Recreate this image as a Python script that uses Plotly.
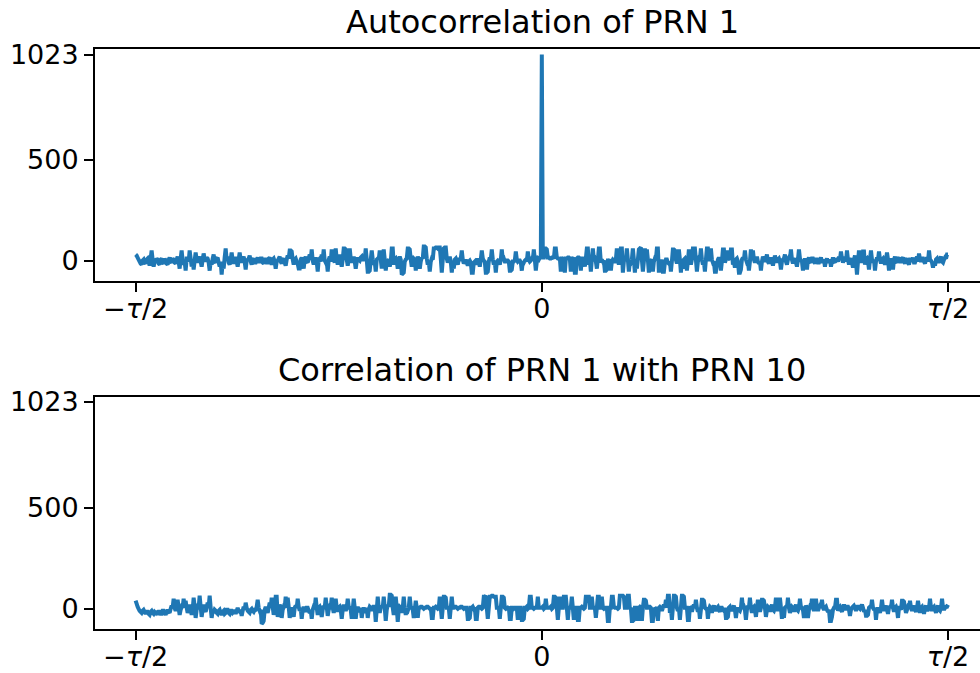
import numpy as np
import plotly.graph_objects as go

# Tick labels
X_TICKS = [-0.5, 0.0, 0.5]
X_TICK_TEXT = ["\u2212<i>\u03c4</i>/2", "0", "<i>\u03c4</i>/2"]
Y_TICKS = [0, 500, 1023]

TITLES = ["Autocorrelation of PRN 1", "Correlation of PRN 1 with PRN 10"]

# Correlation values (lag from -tau/2 to tau/2)
AUTO_PRN1_LEFT = [
    30, 25, 15, 5, -5, -15, -20, 0, 5, -10, -15, 5, 10, -5, -25, 10, 50, 5, -30, -5,
    -10, 10, 5, -15, -20, 5, 10, -10, -15, 10, 0, -15, -20, 5, 15, -5, -10, 10, 5, -10,
    -15, 5, 20, -5, -40, 10, 50, 0, -20, -5, -50, 10, 10, -5, 50, 10, -30, 5, -45, 0,
    40, 5, -10, 10, 20, -5, -30, 5, 35, 10, -5, 15, 10, -10, -50, -5, -20, 10, 30, -5,
    -10, 10, 15, -10, -30, -5, -70, -10, -40, 15, 60, 5, 20, -10, -20, 5, 40, 0, -15, 10,
    10, -5, -30, 5, 40, 5, -10, 10, 20, -5, -45, 0, 5, 10, 25, -5, -20, 5, 10, -10,
    -10, 5, 15, -5, -5, 10, 10, -10, -15, 5, 5, -10, -10, 10, 15, -5, -20, 5, 10, -5,
    -40, -5, 0, 10, 20, -5, -15, 5, 10, -10, -25, 5, 25, 10, 50, 50, 45, 5, -20, 5,
    10, -5, -15, -40, -40, 5, 15, -5, -40, 5, 20, -5, -10, 10, 30, 5, 55, 0, -20, 5,
    15, -5, -55, 5, 10, -5, 30, 5, 55, 0, -10, -5, -55, 5, 20, -5, 55, 5, 5, -10,
    60, 5, -20, 10, 30, -5, -30, 5, 60, 60, 55, 5, -25, 5, 60, 10, -10, 5, 20, -5,
    -40, -5, 15, 5, 0, 15, 20, 5, 5, 10, 60, 5, -55, -55, -50, 5, 50, 5, -20, -5,
    -55, 5, 10, 5, 50, 5, -40, 0, 55, 5, -50, -5, 0, 5, -30, -5, 60, 60, -20, 5,
    10, -5, -40, 5, 20, 5, -70, -65, -60, -5, 5, 10, 60, 60, 55, 5, -30, -5, 10, 5,
    -50, -5, 20, 5, -40, -5, 15, 10, 70, 70, 65, 10, -20, -5, -55, -5, 10, 5, 60, 60,
    65, 65, 60, 65, 65, 10, -60, 5, 60, 65, 65, 10, -10, 5, 20, -5, -60, -5, -40, 5,
    10, -5, -20, 5, 5, 10, 50, 5, -15, -5, 5, -10, -25, -5, 0, -10, -60, -60, -10, -5,
    -20, -5, 10, -5, -30, 5, 50, 10, 0, -5, -60, -60, -55, -5, 15, 5, 55, 5, -20, -5,
    -60, -5, 0, -5, -20, 5, 55, 5, 10, -5, -5, 0, 0, -5, -50, -50, -45, -5, -5, 0,
    45, 5, -5, 0, 0, -10, -50, -5, -10, 0, 5, -5, 45, 5, -5, 0, 10, 5, 55, 5,
    -50, -5, 10, 5, 15, 15,
]
AUTO_PEAK = 1023
AUTO_PRN1_RIGHT = [
    15, 15, 60, 60, 55, 15, 15, 10, 10, 15, 15, 10, 60, 60, 15, 10, 10, 15, -55, 10,
    10, 15, -60, 10, 10, 15, 15, 10, -55, 10, 10, 15, -60, -60, 10, 15, 15, 10, -50, 10,
    10, 5, -30, 10, 60, 60, -20, 5, -55, 5, 60, 5, 10, -5, -40, 5, 60, 60, -10, 5,
    -5, 0, -50, -50, -45, 0, 0, 5, -50, -5, 5, 0, -10, 5, 60, 5, -20, 5, 60, 60,
    -60, -5, 20, 5, 60, 5, -55, -5, -10, 5, 60, 5, -60, -5, -40, 5, 55, 60, 65, 5,
    -55, -5, 60, 5, 55, 5, -60, -5, 0, 5, -55, -5, 10, 5, 60, 60, -60, -5, -10, 5,
    -55, -55, -10, 5, 5, -10, -15, -5, -55, -5, 55, 55, 50, 5, -15, 5, 55, 5, -60, -5,
    -40, 5, 10, -5, -50, -5, 55, 5, -20, 5, 60, 60, 60, 5, -55, -5, 10, 5, 60, 5,
    -20, -5, -55, 5, 60, 60, 5, 5, 60, 5, -10, -5, -55, -55, -20, 5, 15, 5, -50, -5,
    55, 55, -10, 5, 50, 5, 10, 5, 55, 55, -20, -5, -35, 5, 10, -5, -60, -60, -45, 5,
    15, 5, 50, 5, -10, -5, -50, -5, 55, 10, 50, 5, -10, 5, 20, -5, -15, -5, -50, -5,
    20, 5, -5, 10, 30, -5, -15, 5, 15, -5, -25, 0, 25, 5, -10, 5, 10, -5, -45, -5,
    5, 10, 30, -5, -20, 5, 15, 10, 55, 5, -15, 5, 10, -10, -30, 5, 55, 10, 0, -5,
    -50, -5, 10, -5, -45, 5, 15, -5, -10, 10, 10, -5, -15, 5, 5, -10, -10, 5, 15, -5,
    -5, 5, -30, 0, 10, -10, -5, 5, -30, -5, 15, -5, -10, 10, 5, -5, 20, 5, 45, 10,
    -10, 5, 20, -5, 50, 5, -20, 5, 10, -10, -35, 5, 25, -5, -70, -5, 50, 5, -10, 5,
    45, 45, -20, 5, 10, -5, -45, 5, 50, 5, -10, 5, -50, -5, 15, 5, 45, 5, -15, 5,
    10, -5, -20, 5, 40, 5, -50, -5, 10, -5, -45, 5, 20, -5, -10, 10, 15, -5, -5, 10,
    15, -5, -15, 5, 10, -10, -20, 5, 5, -5, 15, -10, -10, 5, 20, -5, 35, 5, -5, 10,
    10, -5, -15, 5, 15, -5, 50, 5, 0, -10, -35, -5, -25, 5, 10, -5, -5, 10, 20, -5,
    -10, 5, 15, 10, 30, 30,
]

CROSS_PRN1_PRN10 = [
    40, 25, 10, 0, -10, -15, -20, -10, -5, -15, -25, -15, -15, -25, -30, -15, -10, -20, -25, -15,
    -20, -10, -30, -15, -15, -25, -25, -10, -10, -20, -30, -15, -5, -15, -20, 0, 15, 5, 50, 5,
    -10, 5, 45, 5, -30, -5, 10, 5, 50, 10, 40, 5, -20, -5, 20, 5, -30, -5, 55, 10,
    -45, -5, 10, 5, 65, 10, -40, -5, 20, -5, -15, 5, 30, 10, 65, 5, -45, -10, -20, -5,
    -10, -20, -25, -10, -5, -20, -30, -15, -10, -25, -20, -5, -5, -20, -25, -10, -10, -20, -15, -5,
    -25, -10, 5, -10, -15, -5, -35, -10, 10, -5, 30, 5, -10, -15, -20, -5, 0, -10, -15, -5,
    -5, 10, 45, 5, -10, -5, -75, -70, -60, -5, 10, -5, -20, 5, 30, 5, 55, 10, -30, -5,
    60, 60, -40, -5, 20, 5, -45, -5, 10, 5, 60, 5, 55, 10, -45, -5, 5, -5, -40, 5,
    15, 5, 50, 10, -10, 5, -50, -5, 10, -5, -15, 5, 5, -10, -20, -5, -50, -5, 10, 5,
    55, 5, -30, 5, 10, -5, -40, -5, 15, 5, 55, 10, -35, -5, 10, 5, 55, 5, -20, 5,
    50, 5, -15, 5, 10, -5, -50, -5, 20, 5, -10, 5, 50, 10, 5, -5, -50, -5, 50, 5,
    -50, -5, 10, -5, -15, 5, -45, -5, 5, -5, -20, 5, -45, -5, 10, 5, -10, 5, 15, 5,
    -65, -5, 60, 5, -20, 5, 10, 5, 60, 5, -60, -5, 20, 10, 70, 70, 65, 5, -30, -5,
    60, 5, -65, -5, 10, 5, -20, 5, 60, 5, -30, -5, -10, 5, 60, 10, 5, -5, -45, -5,
    40, 5, -45, 5, 5, 10, 10, 5, 0, 5, 5, 10, 10, 5, 0, 5, -45, -45, 5, 5,
    10, 5, 0, 5, 60, 5, -50, 5, 60, 60, 55, 5, 5, 5, -50, 5, 60, 5, 5, 10,
    10, 5, 0, 5, 5, 10, 10, 5, 0, 5, 5, 5, -50, -50, -45, 5, 5, 10, 0, 5,
    -50, -50, 5, 10, 10, 5, 0, 5, 60, 60, 65, 5, -50, 5, 60, 60, 65, 65, 60, 60,
    60, 5, 5, 5, -50, 5, 60, 60, 55, 5, 0, 5, 5, 10, -50, -50, 5, 5, 0, 5,
    5, 5, -55, 5, 5, 5, -55, -55, -50, 5, 5, 10, 0, 5, 60, 60, 5, 5, 0, 5,
    5, 5, 60, 5, 5, 5, 5, 10, 0, 5, 50, 5, 5, 5, 5, 10, 0, 5, 60, 60,
    55, 5, -55, 5, 60, 5, 5, 5, 60, 60, 60, 5, -55, 5, 5, 5, 60, 5, -55, 5,
    5, 5, -55, -55, 5, 5, 10, 5, 0, 5, 60, 60, 60, 60, 5, 5, 60, 5, 5, 5,
    -45, 5, 60, 60, 5, 5, 60, 5, 0, 5, 5, 5, -60, -60, 5, 5, 60, 60, 10, 5,
    5, 5, 0, 5, 65, 65, 65, 65, 60, 5, 5, 5, 65, 65, 0, 5, -60, -60, -55, 5,
    5, 5, -60, 5, 10, 5, -60, 5, 45, 45, 40, 5, 5, 10, 10, 5, -60, -60, -20, 5,
    0, 5, -60, 5, 10, 5, -10, 5, 20, 5, 45, 5, 65, 65, -20, 5, -55, 5, 65, 65,
    60, 5, -10, 5, -55, 5, 65, 65, 60, 5, 5, 5, -55, -55, 10, 5, -15, 5, 20, 5,
    45, 5, -15, 5, -50, -5, 45, 45, 40, 5, 0, 5, -50, -5, 10, 5, -20, 5, 15, 0,
    -10, 5, 10, -5, -15, 5, 5, -5, -10, 5, -45, -45, -40, 5, 10, -5, -5, 5, 15, -5,
    -45, -5, 5, -5, -10, 5, 55, 5, 10, -5, -55, -5, 15, 5, 55, 5, -20, 5, 10, -5,
    -40, 5, 45, 5, -15, 5, 45, 45, 40, 5, -40, -5, 10, 5, -15, 5, 20, -5, -10, 5,
    55, 5, -10, 5, 55, 5, -50, -5, -45, 5, 10, 5, 55, 5, -20, -5, 10, 5, -15, 5,
    20, -5, -10, 5, 50, 5, 5, -5, -45, -5, 15, 5, -45, -5, 10, 5, 50, 5, -10, 5,
    50, 5, -10, 5, 15, 10, 45, 5, -5, 5, 10, -5, -15, -5, -60, -60, -40, -5, 5, 5,
    45, 45, -10, 5, 10, -5, -15, 5, 20, 5, -5, 10, 10, -5, -35, -5, 5, 10, 15, 5,
    -10, 5, 15, 5, 0, 10, 20, 5, -15, -5, -35, -35, -30, 5, 10, 5, 45, 5, -5, 5,
    -55, -5, 5, -5, -20, 5, 45, 5, -10, 5, 15, -5, -25, 5, 10, 5, 45, 5, -15, 5,
    10, -5, -45, 5, 5, -5, 40, 40, 35, 5, -20, -5, 10, 5, 40, 5, -10, 5, 15, -5,
    -15, 5, 40, 5, -20, 5, 10, -5, -25, 5, 15, -5, -5, 5, 50, 5, -10, 5, 10, -5,
    -20, 5, 15, -5, -10, 5, 50, 5, -5, 5, 10, 10, 20,
]

AUTO_PRN1 = AUTO_PRN1_LEFT + [AUTO_PEAK] + AUTO_PRN1_RIGHT

W, H = 980, 673
LEFT = 95
BLUE = "#1f77b4"
FONT = "DejaVu Sans"

fig = go.Figure()

# lag axis: peak of the autocorrelation sits at zero lag
n_left, n_right = len(AUTO_PRN1_LEFT), len(AUTO_PRN1_RIGHT)
lag_auto = np.concatenate([
    np.linspace(-0.5, 0.0, n_left + 1)[:-1], [0.0],
    np.linspace(0.0, 0.5, n_right + 1)[1:],
])
lag_cross = np.linspace(-0.5, 0.5, len(CROSS_PRN1_PRN10))

for k, (lag, vals) in enumerate([(lag_auto, AUTO_PRN1), (lag_cross, CROSS_PRN1_PRN10)]):
    fig.add_trace(go.Scatter(
        x=lag, y=vals, mode="lines",
        line=dict(color=BLUE, width=4, simplify=False),
        xaxis="x" if k == 0 else "x2",
        yaxis="y" if k == 0 else "y2",
        showlegend=False, hoverinfo="skip",
    ))

plot_w = W - LEFT
x_right = -0.55 + plot_w / 812.4

axis_common = dict(
    showline=True, linecolor="black", linewidth=2,
    ticks="outside", ticklen=9, tickwidth=2, tickcolor="black",
    showgrid=False, zeroline=False, automargin=False,
    tickfont=dict(family=FONT, size=27, color="black"),
)

def ydom(top_px, bot_px):
    return [1 - bot_px / H, 1 - top_px / H]

xcommon = dict(domain=[0, 1], range=[-0.55, x_right], tickvals=X_TICKS,
               ticktext=X_TICK_TEXT, mirror=True, ticklabelstandoff=-6, **axis_common)
ycommon = dict(range=[-100, 1049], tickvals=Y_TICKS,
               ticktext=[str(v) for v in Y_TICKS], **axis_common)

fig.update_layout(
    template="none",
    width=W, height=H,
    margin=dict(l=LEFT, r=0, t=0, b=0, autoexpand=False),
    paper_bgcolor="white", plot_bgcolor="white",
    font=dict(family=FONT, color="black"),
    xaxis=dict(anchor="y", **xcommon),
    yaxis=dict(domain=ydom(49.3, 280.7), anchor="x", **ycommon),
    xaxis2=dict(anchor="y2", **xcommon),
    yaxis2=dict(domain=ydom(396.7, 629.0), anchor="x2", **ycommon),
)

title_x = (542.4 - LEFT) / plot_w
for t, ypx in zip(TITLES, [22, 370]):
    fig.add_annotation(text=t, xref="paper", yref="paper",
                       x=title_x, y=1 - ypx / H, xanchor="center", yanchor="middle",
                       showarrow=False, font=dict(family=FONT, size=32, color="black"))

fig.write_html("out.html")
